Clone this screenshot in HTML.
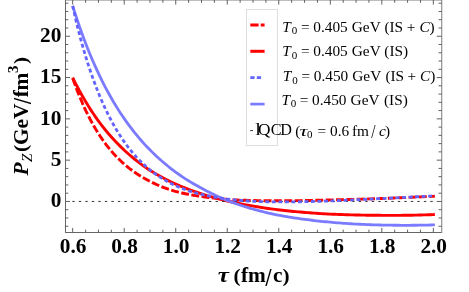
<!DOCTYPE html>
<html><head><meta charset="utf-8"><title>plot</title>
<style>
html,body{margin:0;padding:0;background:#fff;}
body{width:469px;height:292px;overflow:hidden;}
svg{display:block;font-family:"Liberation Serif",serif;will-change:transform;}
.ax text{font-weight:bold;font-size:21.3px;fill:#000;}
.lg text{fill:#000;}
.i{font-style:italic;}
</style></head><body>
<svg width="469" height="292" viewBox="0 0 469 292">
<rect width="469" height="292" fill="#fff"/>
<g fill="none" stroke-linecap="butt" stroke-linejoin="round">
<path d="M72.70 78.18 L74.98 84.59 L77.26 90.65 L79.53 96.38 L81.81 101.81 L84.09 106.94 L86.37 111.80 L88.65 116.40 L90.92 120.76 L93.20 124.89 L95.48 128.81 L97.76 132.52 L100.03 136.05 L102.31 139.39 L104.59 142.56 L106.87 145.58 L109.15 148.44 L111.42 151.15 L113.70 153.73 L115.98 156.19 L118.26 158.52 L120.54 160.73 L122.81 162.84 L125.09 164.84 L127.37 166.75 L129.65 168.56 L131.93 170.28 L134.20 171.92 L136.48 173.48 L138.76 174.96 L141.04 176.37 L143.31 177.72 L145.59 179.02 L147.87 180.26 L150.15 181.45 L152.43 182.59 L154.70 183.68 L156.98 184.72 L159.26 185.71 L161.54 186.64 L163.82 187.54 L166.09 188.38 L168.37 189.17 L170.65 189.92 L172.93 190.62 L175.21 191.28 L177.48 191.89 L179.76 192.46 L182.04 192.99 L184.32 193.49 L186.59 193.97 L188.87 194.41 L191.15 194.83 L193.43 195.22 L195.71 195.60 L197.98 195.96 L200.26 196.31 L202.54 196.65 L204.82 196.98 L207.10 197.29 L209.37 197.59 L211.65 197.86 L213.93 198.13 L216.21 198.37 L218.49 198.60 L220.76 198.82 L223.04 199.03 L225.32 199.22 L227.60 199.39 L229.87 199.56 L232.15 199.72 L234.43 199.86 L236.71 199.98 L238.99 200.08 L241.26 200.15 L243.54 200.22 L245.82 200.28 L248.10 200.34 L250.38 200.40 L252.65 200.47 L254.93 200.53 L257.21 200.58 L259.49 200.63 L261.77 200.67 L264.04 200.70 L266.32 200.73 L268.60 200.75 L270.88 200.77 L273.15 200.78 L275.43 200.79 L277.71 200.79 L279.99 200.79 L282.27 200.78 L284.54 200.77 L286.82 200.76 L289.10 200.74 L291.38 200.72 L293.66 200.69 L295.93 200.67 L298.21 200.64 L300.49 200.60 L302.77 200.57 L305.05 200.53 L307.32 200.48 L309.60 200.44 L311.88 200.39 L314.16 200.34 L316.43 200.29 L318.71 200.24 L320.99 200.19 L323.27 200.13 L325.55 200.07 L327.82 200.01 L330.10 199.95 L332.38 199.90 L334.66 199.84 L336.94 199.78 L339.21 199.73 L341.49 199.67 L343.77 199.61 L346.05 199.56 L348.33 199.50 L350.60 199.44 L352.88 199.38 L355.16 199.32 L357.44 199.25 L359.72 199.19 L361.99 199.13 L364.27 199.06 L366.55 198.99 L368.83 198.92 L371.10 198.85 L373.38 198.77 L375.66 198.70 L377.94 198.62 L380.22 198.53 L382.49 198.45 L384.77 198.36 L387.05 198.27 L389.33 198.18 L391.61 198.09 L393.88 197.99 L396.16 197.90 L398.44 197.81 L400.72 197.72 L403.00 197.62 L405.27 197.53 L407.55 197.43 L409.83 197.34 L412.11 197.24 L414.38 197.15 L416.66 197.05 L418.94 196.96 L421.22 196.86 L423.50 196.76 L425.77 196.66 L428.05 196.57 L430.33 196.47 L432.61 196.37 L434.89 196.27" stroke="#f00" stroke-width="2.9" stroke-dasharray="7.9 2.46"/>
<path d="M72.70 77.70 L74.98 82.28 L77.26 86.70 L79.53 90.96 L81.81 95.07 L84.09 99.03 L86.37 102.85 L88.65 106.54 L90.92 110.10 L93.20 113.54 L95.48 116.85 L97.76 120.05 L100.03 123.14 L102.31 126.12 L104.59 129.00 L106.87 131.79 L109.15 134.48 L111.42 137.07 L113.70 139.58 L115.98 142.01 L118.26 144.36 L120.54 146.62 L122.81 148.82 L125.09 150.94 L127.37 152.99 L129.65 154.97 L131.93 156.90 L134.20 158.78 L136.48 160.61 L138.76 162.39 L141.04 164.12 L143.31 165.79 L145.59 167.40 L147.87 168.94 L150.15 170.42 L152.43 171.84 L154.70 173.21 L156.98 174.55 L159.26 175.84 L161.54 177.09 L163.82 178.30 L166.09 179.48 L168.37 180.62 L170.65 181.73 L172.93 182.80 L175.21 183.84 L177.48 184.85 L179.76 185.83 L182.04 186.78 L184.32 187.70 L186.59 188.60 L188.87 189.47 L191.15 190.31 L193.43 191.13 L195.71 191.93 L197.98 192.70 L200.26 193.46 L202.54 194.19 L204.82 194.90 L207.10 195.59 L209.37 196.26 L211.65 196.91 L213.93 197.55 L216.21 198.16 L218.49 198.76 L220.76 199.35 L223.04 199.91 L225.32 200.47 L227.60 201.00 L229.87 201.53 L232.15 202.03 L234.43 202.53 L236.71 203.01 L238.99 203.48 L241.26 203.93 L243.54 204.37 L245.82 204.81 L248.10 205.23 L250.38 205.63 L252.65 206.03 L254.93 206.42 L257.21 206.79 L259.49 207.16 L261.77 207.51 L264.04 207.86 L266.32 208.19 L268.60 208.51 L270.88 208.82 L273.15 209.13 L275.43 209.42 L277.71 209.70 L279.99 209.98 L282.27 210.24 L284.54 210.50 L286.82 210.74 L289.10 210.98 L291.38 211.21 L293.66 211.44 L295.93 211.65 L298.21 211.86 L300.49 212.06 L302.77 212.26 L305.05 212.45 L307.32 212.63 L309.60 212.80 L311.88 212.97 L314.16 213.13 L316.43 213.29 L318.71 213.44 L320.99 213.58 L323.27 213.72 L325.55 213.85 L327.82 213.97 L330.10 214.09 L332.38 214.20 L334.66 214.30 L336.94 214.39 L339.21 214.48 L341.49 214.57 L343.77 214.65 L346.05 214.72 L348.33 214.79 L350.60 214.85 L352.88 214.91 L355.16 214.97 L357.44 215.02 L359.72 215.06 L361.99 215.10 L364.27 215.14 L366.55 215.18 L368.83 215.21 L371.10 215.23 L373.38 215.26 L375.66 215.28 L377.94 215.30 L380.22 215.32 L382.49 215.34 L384.77 215.35 L387.05 215.36 L389.33 215.37 L391.61 215.37 L393.88 215.36 L396.16 215.36 L398.44 215.34 L400.72 215.33 L403.00 215.30 L405.27 215.28 L407.55 215.25 L409.83 215.21 L412.11 215.18 L414.38 215.13 L416.66 215.08 L418.94 215.03 L421.22 214.98 L423.50 214.92 L425.77 214.85 L428.05 214.78 L430.33 214.71 L432.61 214.63 L434.89 214.55" stroke="#f00" stroke-width="2.9"/>
<path d="M72.3 201.45 H433.6" stroke="#2a2a2a" stroke-width="0.95" stroke-dasharray="2.4 4.11" fill="none"/>
<path d="M72.70 6.00 L74.98 13.16 L77.26 20.06 L79.53 26.70 L81.81 33.09 L84.09 39.26 L86.37 45.20 L88.65 50.93 L90.92 56.46 L93.20 61.79 L95.48 66.93 L97.76 71.89 L100.03 76.68 L102.31 81.31 L104.59 85.78 L106.87 90.10 L109.15 94.27 L111.42 98.30 L113.70 102.20 L115.98 105.97 L118.26 109.62 L120.54 113.15 L122.81 116.56 L125.09 119.87 L127.37 123.07 L129.65 126.17 L131.93 129.17 L134.20 132.08 L136.48 134.90 L138.76 137.63 L141.04 140.28 L143.31 142.84 L145.59 145.33 L147.87 147.75 L150.15 150.09 L152.43 152.37 L154.70 154.57 L156.98 156.71 L159.26 158.79 L161.54 160.81 L163.82 162.77 L166.09 164.68 L168.37 166.52 L170.65 168.32 L172.93 170.07 L175.21 171.76 L177.48 173.41 L179.76 175.01 L182.04 176.57 L184.32 178.08 L186.59 179.56 L188.87 180.99 L191.15 182.38 L193.43 183.73 L195.71 185.05 L197.98 186.33 L200.26 187.57 L202.54 188.79 L204.82 190.00 L207.10 191.18 L209.37 192.34 L211.65 193.47 L213.93 194.59 L216.21 195.67 L218.49 196.72 L220.76 197.75 L223.04 198.73 L225.32 199.69 L227.60 200.61 L229.87 201.49 L232.15 202.33 L234.43 203.16 L236.71 203.96 L238.99 204.74 L241.26 205.49 L243.54 206.23 L245.82 206.95 L248.10 207.64 L250.38 208.32 L252.65 208.98 L254.93 209.62 L257.21 210.24 L259.49 210.84 L261.77 211.43 L264.04 212.00 L266.32 212.55 L268.60 213.08 L270.88 213.59 L273.15 214.09 L275.43 214.56 L277.71 215.02 L279.99 215.46 L282.27 215.89 L284.54 216.30 L286.82 216.70 L289.10 217.08 L291.38 217.45 L293.66 217.80 L295.93 218.15 L298.21 218.48 L300.49 218.80 L302.77 219.11 L305.05 219.41 L307.32 219.70 L309.60 219.98 L311.88 220.25 L314.16 220.52 L316.43 220.78 L318.71 221.03 L320.99 221.28 L323.27 221.52 L325.55 221.75 L327.82 221.97 L330.10 222.19 L332.38 222.40 L334.66 222.60 L336.94 222.79 L339.21 222.97 L341.49 223.14 L343.77 223.31 L346.05 223.47 L348.33 223.62 L350.60 223.76 L352.88 223.90 L355.16 224.03 L357.44 224.15 L359.72 224.26 L361.99 224.37 L364.27 224.47 L366.55 224.57 L368.83 224.65 L371.10 224.74 L373.38 224.81 L375.66 224.88 L377.94 224.95 L380.22 225.01 L382.49 225.06 L384.77 225.10 L387.05 225.15 L389.33 225.18 L391.61 225.21 L393.88 225.24 L396.16 225.26 L398.44 225.27 L400.72 225.29 L403.00 225.29 L405.27 225.29 L407.55 225.29 L409.83 225.28 L412.11 225.27 L414.38 225.25 L416.66 225.23 L418.94 225.20 L421.22 225.18 L423.50 225.14 L425.77 225.10 L428.05 225.06 L430.33 225.02 L432.61 224.97 L434.89 224.92" stroke="#7b7bff" stroke-width="2.8"/>
<path d="M72.70 5.84 L74.98 16.13 L77.26 25.72 L79.53 34.71 L81.81 43.18 L84.09 51.17 L86.37 58.73 L88.65 65.90 L90.92 72.71 L93.20 79.18 L95.48 85.34 L97.76 91.19 L100.03 96.77 L102.31 102.07 L104.59 107.12 L106.87 111.94 L109.15 116.52 L111.42 120.88 L113.70 125.04 L115.98 129.00 L118.26 132.77 L120.54 136.36 L122.81 139.78 L125.09 143.04 L127.37 146.14 L129.65 149.09 L131.93 151.90 L134.20 154.58 L136.48 157.12 L138.76 159.54 L141.04 161.85 L143.31 164.04 L145.59 166.13 L147.87 168.11 L150.15 170.00 L152.43 171.80 L154.70 173.50 L156.98 175.12 L159.26 176.67 L161.54 178.13 L163.82 179.52 L166.09 180.84 L168.37 182.10 L170.65 183.29 L172.93 184.42 L175.21 185.49 L177.48 186.51 L179.76 187.47 L182.04 188.39 L184.32 189.26 L186.59 190.08 L188.87 190.85 L191.15 191.59 L193.43 192.29 L195.71 192.94 L197.98 193.57 L200.26 194.15 L202.54 194.71 L204.82 195.23 L207.10 195.73 L209.37 196.20 L211.65 196.64 L213.93 197.06 L216.21 197.45 L218.49 197.83 L220.76 198.17 L223.04 198.50 L225.32 198.81 L227.60 199.10 L229.87 199.37 L232.15 199.62 L234.43 199.86 L236.71 200.08 L238.99 200.29 L241.26 200.49 L243.54 200.67 L245.82 200.84 L248.10 200.99 L250.38 201.12 L252.65 201.24 L254.93 201.34 L257.21 201.44 L259.49 201.53 L261.77 201.60 L264.04 201.67 L266.32 201.73 L268.60 201.78 L270.88 201.82 L273.15 201.85 L275.43 201.88 L277.71 201.90 L279.99 201.91 L282.27 201.91 L284.54 201.91 L286.82 201.91 L289.10 201.90 L291.38 201.88 L293.66 201.86 L295.93 201.83 L298.21 201.80 L300.49 201.76 L302.77 201.72 L305.05 201.68 L307.32 201.63 L309.60 201.58 L311.88 201.52 L314.16 201.47 L316.43 201.40 L318.71 201.34 L320.99 201.27 L323.27 201.20 L325.55 201.13 L327.82 201.05 L330.10 200.96 L332.38 200.87 L334.66 200.77 L336.94 200.67 L339.21 200.56 L341.49 200.46 L343.77 200.35 L346.05 200.24 L348.33 200.14 L350.60 200.03 L352.88 199.93 L355.16 199.82 L357.44 199.71 L359.72 199.60 L361.99 199.49 L364.27 199.38 L366.55 199.27 L368.83 199.16 L371.10 199.04 L373.38 198.93 L375.66 198.82 L377.94 198.70 L380.22 198.59 L382.49 198.48 L384.77 198.37 L387.05 198.26 L389.33 198.15 L391.61 198.03 L393.88 197.92 L396.16 197.80 L398.44 197.69 L400.72 197.57 L403.00 197.46 L405.27 197.34 L407.55 197.23 L409.83 197.11 L412.11 196.99 L414.38 196.87 L416.66 196.75 L418.94 196.64 L421.22 196.52 L423.50 196.40 L425.77 196.28 L428.05 196.16 L430.33 196.04 L432.61 195.92 L434.89 195.79" stroke="#6464ff" stroke-width="2.8" stroke-dasharray="3.9 2.62"/>
</g>
<rect x="246.5" y="9.5" width="31" height="136" fill="none" stroke="#dedede" stroke-width="1"/>
<g fill="none">
<path d="M250.3 24.9 h8.3 m2.1 0 h3.9" stroke="#f00" stroke-width="3"/>
<path d="M250.3 51.3 h14.3" stroke="#f00" stroke-width="3"/>
<path d="M250.3 77.6 h4.3 m2.2 0 h4.3" stroke="#6464ff" stroke-width="2.8"/>
<path d="M250.3 104.1 h14.3" stroke="#7b7bff" stroke-width="2.7"/>
<path d="M250.2 130.6 h2.7" stroke="#333" stroke-width="1"/>
</g>
<g class="lg"><text x="282.30" y="31.50" font-size="15.3" font-style="italic">T</text><text x="291.80" y="33.90" font-size="11">0</text><text x="301.00" y="31.50" font-size="15.3">=</text><text x="313.30" y="31.50" font-size="15.3">0.405</text><text x="351.80" y="31.50" font-size="15.3">GeV</text><text x="384.40" y="31.50" font-size="15.3">(IS</text><text x="406.80" y="31.50" font-size="15.3">+</text><text x="419.60" y="31.50" font-size="15.3" font-style="italic">C</text><text x="429.60" y="31.50" font-size="15.3">)</text><text x="282.30" y="56.10" font-size="15.3" font-style="italic">T</text><text x="291.80" y="58.50" font-size="11">0</text><text x="301.00" y="56.10" font-size="15.3">=</text><text x="313.30" y="56.10" font-size="15.3">0.405</text><text x="351.80" y="56.10" font-size="15.3">GeV</text><text x="384.30" y="56.10" font-size="15.3">(IS)</text><text x="282.80" y="81.10" font-size="15.3" font-style="italic">T</text><text x="292.30" y="83.50" font-size="11">0</text><text x="301.50" y="81.10" font-size="15.3">=</text><text x="313.80" y="81.10" font-size="15.3">0.450</text><text x="352.30" y="81.10" font-size="15.3">GeV</text><text x="385.40" y="81.10" font-size="15.3">(IS</text><text x="407.50" y="81.10" font-size="15.3">+</text><text x="420.00" y="81.10" font-size="15.3" font-style="italic">C</text><text x="430.30" y="81.10" font-size="15.3">)</text><text x="281.40" y="105.00" font-size="15.3" font-style="italic">T</text><text x="290.70" y="107.40" font-size="11">0</text><text x="299.80" y="105.00" font-size="15.3">=</text><text x="312.10" y="105.00" font-size="15.3">0.450</text><text x="350.60" y="105.00" font-size="15.3">GeV</text><text x="384.00" y="105.00" font-size="15.3">(IS)</text><text transform="translate(255.20 135.10) scale(1.25 1)" font-size="16.2">l</text><text transform="translate(257.90 135.10) scale(1.07 1)" font-size="16.2">Q</text><text transform="translate(270.70 135.10) scale(1.0 1)" font-size="16.2">C</text><text transform="translate(280.20 135.10) scale(1.0 1)" font-size="16.2">D</text><text x="295.30" y="135.50" font-size="15.3">(</text><text transform="translate(299.50 135.50) scale(1.45 1)" font-size="15.3" font-style="italic">τ</text><text x="307.00" y="137.90" font-size="11">0</text><text x="317.60" y="135.50" font-size="15.3">=</text><text x="330.00" y="135.50" font-size="15.3">0.6</text><text x="351.90" y="135.50" font-size="15.3">fm</text><text transform="translate(371.20 137.80) scale(1 1.2)" font-size="15.3">/</text><text x="379.00" y="135.50" font-size="15.3" font-style="italic">c</text><text x="385.00" y="135.50" font-size="15.3">)</text></g>
<path d="M65.5 0.0 V233.0 M65.5 232.5 H441.75" fill="none" stroke="#666" stroke-width="1"/>
<path d="M441.75 0.0 V233.0 M65.5 0.0 H441.75" fill="none" stroke="#7c7c7c" stroke-width="1"/>
<path d="M72.70 232.5 v-4.6 M72.70 0.0 v4.6 M85.58 232.5 v-2.8 M85.58 0.0 v2.8 M98.46 232.5 v-2.8 M98.46 0.0 v2.8 M111.34 232.5 v-2.8 M111.34 0.0 v2.8 M124.22 232.5 v-4.6 M124.22 0.0 v4.6 M137.10 232.5 v-2.8 M137.10 0.0 v2.8 M149.98 232.5 v-2.8 M149.98 0.0 v2.8 M162.86 232.5 v-2.8 M162.86 0.0 v2.8 M175.74 232.5 v-4.6 M175.74 0.0 v4.6 M188.62 232.5 v-2.8 M188.62 0.0 v2.8 M201.50 232.5 v-2.8 M201.50 0.0 v2.8 M214.38 232.5 v-2.8 M214.38 0.0 v2.8 M227.26 232.5 v-4.6 M227.26 0.0 v4.6 M240.14 232.5 v-2.8 M240.14 0.0 v2.8 M253.02 232.5 v-2.8 M253.02 0.0 v2.8 M265.90 232.5 v-2.8 M265.90 0.0 v2.8 M278.78 232.5 v-4.6 M278.78 0.0 v4.6 M291.66 232.5 v-2.8 M291.66 0.0 v2.8 M304.54 232.5 v-2.8 M304.54 0.0 v2.8 M317.42 232.5 v-2.8 M317.42 0.0 v2.8 M330.30 232.5 v-4.6 M330.30 0.0 v4.6 M343.18 232.5 v-2.8 M343.18 0.0 v2.8 M356.06 232.5 v-2.8 M356.06 0.0 v2.8 M368.94 232.5 v-2.8 M368.94 0.0 v2.8 M381.82 232.5 v-4.6 M381.82 0.0 v4.6 M394.70 232.5 v-2.8 M394.70 0.0 v2.8 M407.58 232.5 v-2.8 M407.58 0.0 v2.8 M420.46 232.5 v-2.8 M420.46 0.0 v2.8 M433.34 232.5 v-4.6 M433.34 0.0 v4.6 M65.5 226.23 h2.8 M441.75 226.23 h-3.1999999999999997 M65.5 217.97 h2.8 M441.75 217.97 h-3.1999999999999997 M65.5 209.71 h2.8 M441.75 209.71 h-3.1999999999999997 M65.5 201.45 h4.6 M441.75 201.45 h-5.0 M65.5 193.19 h2.8 M441.75 193.19 h-3.1999999999999997 M65.5 184.93 h2.8 M441.75 184.93 h-3.1999999999999997 M65.5 176.67 h2.8 M441.75 176.67 h-3.1999999999999997 M65.5 168.41 h2.8 M441.75 168.41 h-3.1999999999999997 M65.5 160.15 h4.6 M441.75 160.15 h-5.0 M65.5 151.89 h2.8 M441.75 151.89 h-3.1999999999999997 M65.5 143.63 h2.8 M441.75 143.63 h-3.1999999999999997 M65.5 135.37 h2.8 M441.75 135.37 h-3.1999999999999997 M65.5 127.11 h2.8 M441.75 127.11 h-3.1999999999999997 M65.5 118.85 h4.6 M441.75 118.85 h-5.0 M65.5 110.59 h2.8 M441.75 110.59 h-3.1999999999999997 M65.5 102.33 h2.8 M441.75 102.33 h-3.1999999999999997 M65.5 94.07 h2.8 M441.75 94.07 h-3.1999999999999997 M65.5 85.81 h2.8 M441.75 85.81 h-3.1999999999999997 M65.5 77.55 h4.6 M441.75 77.55 h-5.0 M65.5 69.29 h2.8 M441.75 69.29 h-3.1999999999999997 M65.5 61.03 h2.8 M441.75 61.03 h-3.1999999999999997 M65.5 52.77 h2.8 M441.75 52.77 h-3.1999999999999997 M65.5 44.51 h2.8 M441.75 44.51 h-3.1999999999999997 M65.5 36.25 h4.6 M441.75 36.25 h-5.0 M65.5 27.99 h2.8 M441.75 27.99 h-3.1999999999999997 M65.5 19.73 h2.8 M441.75 19.73 h-3.1999999999999997 M65.5 11.47 h2.8 M441.75 11.47 h-3.1999999999999997 M65.5 3.21 h2.8 M441.75 3.21 h-3.1999999999999997" fill="none" stroke="#606060" stroke-width="1"/>
<g class="ax"><text x="73.1" y="252.6" text-anchor="middle">0.6</text><text x="124.6" y="252.6" text-anchor="middle">0.8</text><text x="176.1" y="252.6" text-anchor="middle">1.0</text><text x="227.7" y="252.6" text-anchor="middle">1.2</text><text x="279.2" y="252.6" text-anchor="middle">1.4</text><text x="330.7" y="252.6" text-anchor="middle">1.6</text><text x="382.2" y="252.6" text-anchor="middle">1.8</text><text x="433.7" y="252.6" text-anchor="middle">2.0</text><text x="61.3" y="207.20" text-anchor="end">0</text><text x="61.3" y="165.90" text-anchor="end">5</text><text x="61.3" y="124.60" text-anchor="end">10</text><text x="61.3" y="83.30" text-anchor="end">15</text><text x="61.3" y="42.00" text-anchor="end">20</text>
<text transform="translate(217.80 282.40) scale(1.18 0.95)" style="font-size:21.3px;font-style:italic;font-weight:bold;">τ</text><text transform="translate(233.60 281.50) scale(1 0.92)" style="font-size:21.3px;font-weight:bold;">(</text><text transform="translate(240.90 282.40) scale(1 1)" style="font-size:21.3px;font-weight:bold;">fm</text><text transform="translate(265.61 285.60) scale(1 1.2)" style="font-size:21.3px;font-weight:bold;">/</text><text transform="translate(273.10 282.40) scale(1 1)" style="font-size:21.3px;font-weight:bold;">c</text><text transform="translate(282.40 281.50) scale(1 0.92)" style="font-size:21.3px;font-weight:bold;">)</text>
<text transform="translate(27.60 175.58) rotate(-90)" style="font-size:21.3px;font-style:italic;font-weight:bold;">P</text><text transform="translate(31.50 161.90) rotate(-90)" style="font-size:15px;font-style:italic;font-weight:normal;">Z</text><text transform="translate(26.70 152.10) rotate(-90) scale(1 0.92)" style="font-size:21.3px;font-weight:bold;">(</text><text transform="translate(27.60 145.01) rotate(-90)" style="font-size:21.3px;font-weight:bold;">GeV</text><text transform="translate(30.80 103.99) rotate(-90) scale(1 1.2)" style="font-size:21.3px;font-weight:bold;">/</text><text transform="translate(27.60 97.20) rotate(-90)" style="font-size:21.3px;font-weight:bold;">f</text><text transform="translate(27.60 90.60) rotate(-90)" style="font-size:21.3px;font-weight:bold;">m</text><text transform="translate(17.90 72.90) rotate(-90)" style="font-size:14.8px;font-weight:bold;">3</text><text transform="translate(26.70 64.10) rotate(-90) scale(1 0.92)" style="font-size:21.3px;font-weight:bold;">)</text>
</g>
</svg>
</body></html>
